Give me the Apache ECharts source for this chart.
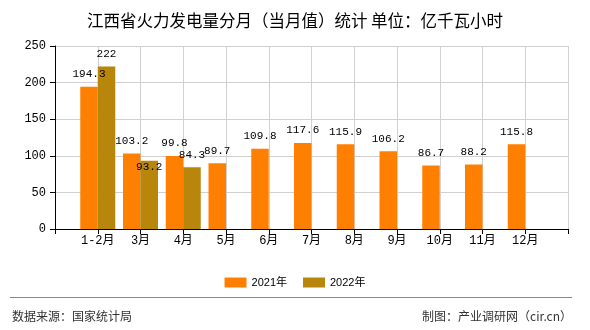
<!DOCTYPE html>
<html>
<head>
<meta charset="utf-8">
<script src="https://cdn.jsdelivr.net/npm/echarts@6/dist/echarts.min.js"></script>
<style>html,body{margin:0;padding:0;background:#fff;}#c{width:590px;height:330px;}</style>
</head>
<body>
<div id="c"></div>
<script>
var categories = ['1-2月','3月','4月','5月','6月','7月','8月','9月','10月','11月','12月'];
var values2021 = [194.3, 103.2, 99.8, 89.7, 109.8, 117.6, 115.9, 106.2, 86.7, 88.2, 115.8];
var values2022 = [222, 93.2, 84.3, null, null, null, null, null, null, null, null];
var yTicks = [0, 50, 100, 150, 200, 250];
var seriesNames = ['2021年', '2022年'];

var mono = "'Liberation Mono', 'Noto Sans CJK SC', monospace";
var axisCats = [''].concat(categories).concat(['']);
function pad(arr){ return [null].concat(arr).concat([null]); }
var d2022 = pad(values2022).map(function(v, i){
  // label of 3月 2022 sits inside the bar top in the reference (overlap avoidance)
  if (i === 2) return {value: v, label: {offset: [0, 19]}};
  return v;
});

var chart = echarts.init(document.getElementById('c'), null, {renderer: 'canvas'});
chart.setOption({
  animation: false,
  backgroundColor: '#fff',
  title: {
    text: '江西省火力发电量分月（当月值）统计 单位：亿千瓦小时',
    left: 'center', top: 7,
    textStyle: {fontSize: 16.5, fontWeight: 'normal', color: '#000', fontFamily: "'Noto Sans CJK SC', sans-serif"}
  },
  legend: {
    data: seriesNames,
    left: 'center', top: 272,
    itemWidth: 22, itemHeight: 10, itemGap: 16,
    icon: 'rect',
    textStyle: {fontSize: 11, color: '#000', fontFamily: "'Liberation Sans', 'Noto Sans CJK SC', sans-serif"}
  },
  grid: {left: 55, right: 22, top: 46, bottom: 101, containLabel: false},
  xAxis: {
    type: 'category',
    data: axisCats,
    boundaryGap: false,
    axisLine: {lineStyle: {color: '#000'}},
    axisTick: {show: true, length: 5, lineStyle: {color: '#000'}},
    axisLabel: {interval: 0, color: '#000', fontSize: 12, fontFamily: mono, margin: 6},
    splitLine: {show: true, lineStyle: {color: '#d0d0d0'}}
  },
  yAxis: {
    type: 'value',
    min: yTicks[0], max: yTicks[yTicks.length - 1], interval: 50,
    axisLine: {show: true, lineStyle: {color: '#000'}},
    axisTick: {show: true, length: 5, lineStyle: {color: '#000'}},
    axisLabel: {color: '#000', fontSize: 12, fontFamily: mono, margin: 9},
    splitLine: {show: true, lineStyle: {color: '#d0d0d0'}}
  },
  series: [
    {
      name: seriesNames[0], type: 'bar', data: pad(values2021),
      barWidth: 17.5, barGap: '0%',
      itemStyle: {color: '#FF8000'},
      label: {show: true, position: 'top', distance: 7, color: '#000', fontSize: 11, fontFamily: mono}
    },
    {
      name: seriesNames[1], type: 'bar', data: d2022,
      barWidth: 17.5, barGap: '0%',
      itemStyle: {color: '#B8860B'},
      label: {show: true, position: 'top', distance: 7, color: '#000', fontSize: 11, fontFamily: mono}
    }
  ],
  graphic: [
    {type: 'line', shape: {x1: 10, y1: 297.5, x2: 572, y2: 297.5}, style: {stroke: '#888', lineWidth: 1}},
    {type: 'text', left: 12, top: 310, style: {text: '数据来源：国家统计局', fill: '#333', font: "12px 'Noto Sans CJK SC', sans-serif"}},
    {type: 'text', right: 18, top: 310, style: {text: '制图：产业调研网（cir.cn）', fill: '#333', font: "12px 'Noto Sans CJK SC', sans-serif"}}
  ]
});
</script>
</body>
</html>
